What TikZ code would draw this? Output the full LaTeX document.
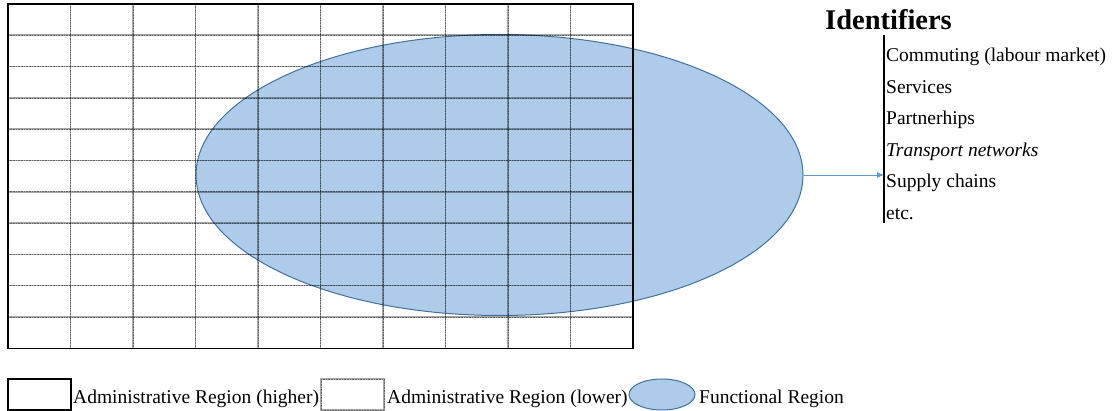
\documentclass[tikz,border=0pt]{standalone}
\usepackage{fontspec}
\setmainfont{Liberation Serif}[ItalicFont={Liberation Serif Italic},BoldFont={Liberation Serif Bold}]
\usetikzlibrary{shapes.geometric,arrows.meta}
\definecolor{funcfill}{RGB}{174,204,234}
\definecolor{funcline}{RGB}{65,113,156}
\definecolor{flowblue}{RGB}{91,155,213}
\tikzset{
  gridline/.style={black, draw opacity=0.35, line width=1.6pt},
  griddots/.style={black, draw opacity=0.4, line width=0.6pt, densely dotted},
  funcreg/.style={ellipse, draw=funcline, fill=funcfill, line width=1pt, inner sep=0pt},
  item/.style={anchor=base west, inner sep=0pt, font=\fontsize{19.5}{20}\selectfont},
  legtext/.style={anchor=base west, inner sep=0pt, font=\fontsize{19.5}{20}\selectfont}
}
\begin{document}
\begin{tikzpicture}[x=1pt,y=-1pt]
  \useasboundingbox (0,0) rectangle (1112,411);

  % functional region
  \node[funcreg, minimum width=607, minimum height=281] (fr) at (499.5,175) {};

  % administrative regions
  \foreach \i in {1,...,9}{
    \draw[gridline] (8+62.5*\i,4) -- (8+62.5*\i,348.3);
    \draw[griddots] (8+62.5*\i,4) -- (8+62.5*\i,348.3);
  }
  \foreach \j in {1,...,10}{
    \draw[gridline] (8,4+31.3*\j) -- (633,4+31.3*\j);
    \draw[griddots] (8,4+31.3*\j) -- (633,4+31.3*\j);
  }
  \draw[line width=1.5pt] (8,4) rectangle (633,348.3);

  % identifiers
  \node[anchor=base, inner sep=0pt, font=\fontsize{28.5}{30}\selectfont\bfseries] (idt) at (888.5,30) {Identifiers};
  \coordinate (idtop) at (884,35);
  \coordinate (idbot) at (884,223);
  \draw[line width=1.8pt] (idtop) -- (idbot);
  \coordinate (flowend) at (884,175);
  \draw[flowblue, line width=0.8pt, -{Latex[length=7pt,width=6pt]}] (fr.east) -- (flowend);

  \node[item] (i1) at (886,62) {Commuting (labour market)};
  \node[item] (i2) at (886,93.5) {Services};
  \node[item] (i3) at (886,125) {Partnerhips};
  \node[item] (i4) at (886,156.5) {\itshape Transport networks};
  \node[item] (i5) at (886,188) {Supply chains};
  \node[item] (i6) at (886,219.5) {etc.};

  % legend
  \draw[line width=1.2pt] (8,379) rectangle (71,410);
  \node[legtext] (l1) at (73,404) {Administrative Region (higher)};
  \draw[gridline] (321,379) rectangle (384,410);
  \draw[griddots] (321,379) rectangle (384,410);
  \node[legtext] (l2) at (387,404) {Administrative Region (lower)};
  \node[funcreg, minimum width=66, minimum height=31] (lf) at (662,394.5) {};
  \node[legtext] (l3) at (699,404) {Functional Region};
\end{tikzpicture}
\end{document}
